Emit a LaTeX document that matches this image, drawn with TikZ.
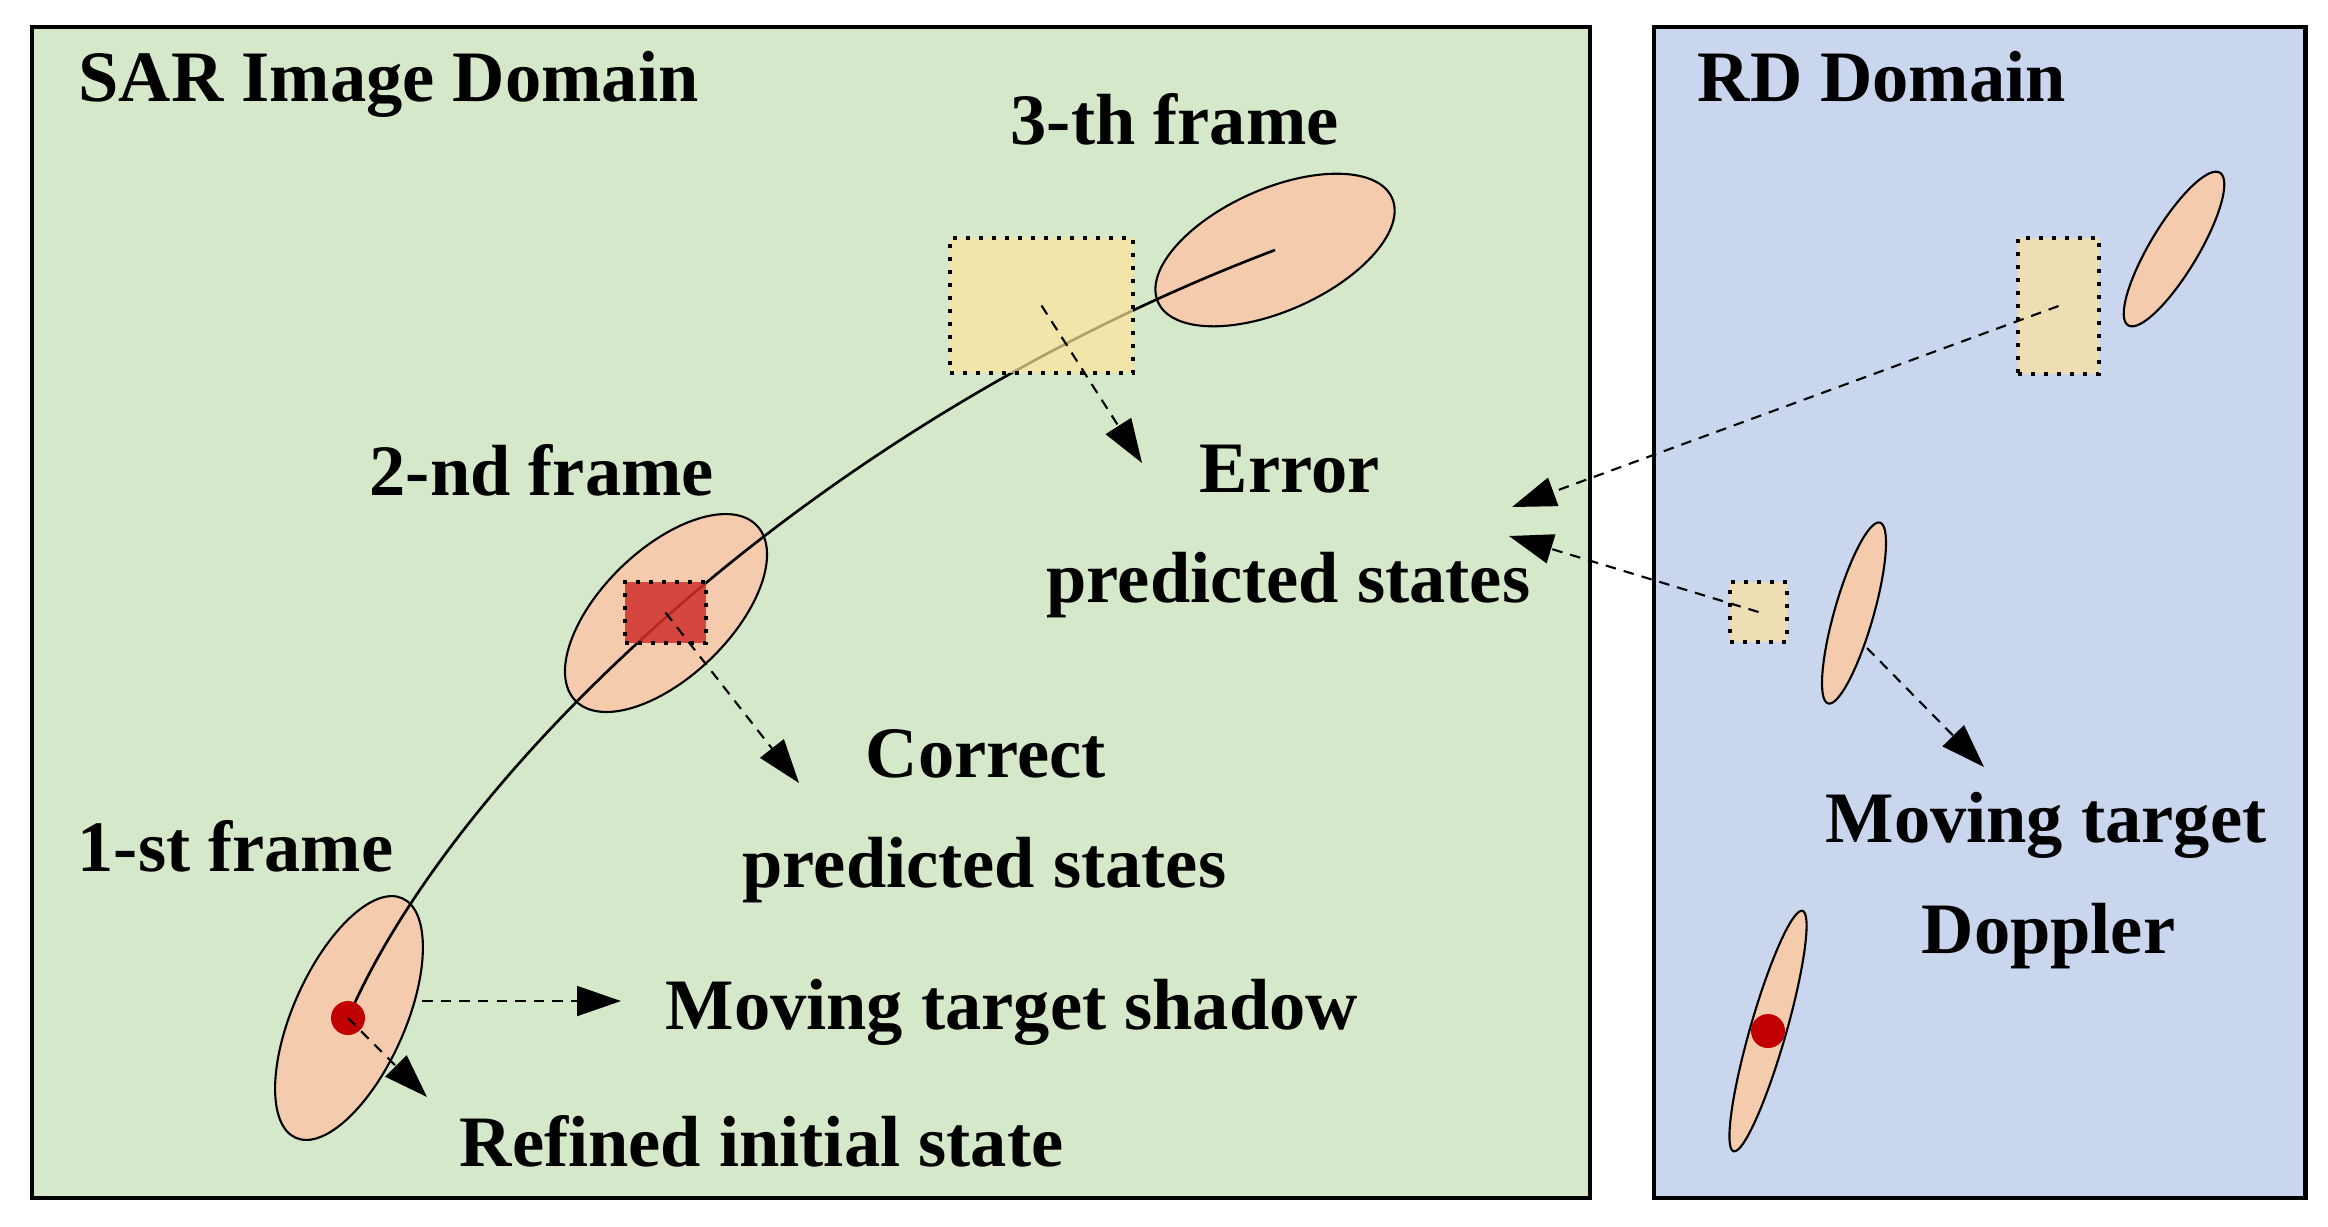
\documentclass[tikz,border=0pt]{standalone}
\usepackage{fontspec}
\setmainfont{Liberation Serif}
\usetikzlibrary{arrows.meta,shapes.geometric}
\definecolor{bggreen}{HTML}{D5E8CA}
\definecolor{bgblue}{HTML}{C9D6ED}
\definecolor{peach}{HTML}{F5CBAE}
\definecolor{sqyellow}{HTML}{FDE49B}
\definecolor{sqred}{HTML}{D0302B}
\definecolor{dotred}{HTML}{C00000}
\begin{document}
\begin{tikzpicture}[x=0.01cm,y=-0.01cm,
  panel/.style={draw=black,line width=1.2pt},
  blob/.style={ellipse,draw=black,fill=peach,line width=0.6pt,inner sep=0pt,outer sep=0pt},
  box/.style={rectangle,draw=black,line width=1.15pt,dash pattern=on 1.15pt off 2.55pt,inner sep=0pt,outer sep=0pt},
  ybox/.style={box,fill=sqyellow,fill opacity=0.7},
  rbox/.style={box,fill=sqred,fill opacity=0.85},
  spot/.style={circle,fill=dotred,inner sep=0pt,minimum size=0.34cm},
  track/.style={draw=black,line width=0.75pt},
  pointer/.style={draw=black,line width=0.6pt,dash pattern=on 3pt off 2.3pt,-{Triangle[length=12.5pt,width=8.5pt]}},
  lbl/.style={anchor=base west,inner sep=0pt,font=\fontsize{20.6}{24}\selectfont\bfseries}
]
\useasboundingbox (0,0) rectangle (2328,1226);
\fill[white] (0,0) rectangle (2328,1226);
% panels
\node[panel,fill=bggreen,rectangle,inner sep=0pt,anchor=north west,minimum width=15.57cm,minimum height=11.70cm] (sar) at (30,25) {};
\node[panel,fill=bgblue,rectangle,inner sep=0pt,anchor=north west,minimum width=6.51cm,minimum height=11.70cm] (rd) at (1652,25) {};
% SAR ellipses
\node[blob,minimum width=2.56cm,minimum height=1.22cm,rotate=24] (e3) at (1275,250) {};
\node[blob,minimum width=2.52cm,minimum height=1.28cm,rotate=44] (e2) at (666,613) {};
\node[blob,minimum width=2.62cm,minimum height=1.12cm,rotate=66] (e1) at (349,1018) {};
% RD ellipses
\node[blob,minimum width=1.78cm,minimum height=0.48cm,rotate=59] (r3) at (2174,249) {};
\node[blob,minimum width=1.88cm,minimum height=0.39cm,rotate=74] (r2) at (1854,613) {};
\node[blob,minimum width=2.50cm,minimum height=0.36cm,rotate=74] (r1) at (1768,1031) {};
% trajectory
\coordinate (p1) at (348,1018);
\draw[track] (p1) .. controls (450,780) and (800,430) .. (e3.center);
% boxes
\node[rbox,minimum width=0.81cm,minimum height=0.61cm] (b2) at (665.5,612.5) {};
\node[ybox,minimum width=1.83cm,minimum height=1.35cm] (b3) at (1041.5,305.5) {};
\node[ybox,minimum width=0.81cm,minimum height=1.36cm] (rb3) at (2058.5,306) {};
\node[ybox,minimum width=0.57cm,minimum height=0.60cm] (rb2) at (1758.5,612) {};
% red dots
\node[spot] (d1) at (p1) {};
\node[spot] (rd1) at (1768,1031) {};
% arrow end points
\coordinate (t3) at (1142,463);
\coordinate (t2) at (799,783);
\coordinate (t1) at (427,1097);
\coordinate (s4) at (422,1001);
\coordinate (t4) at (621,1001);
\coordinate (t5) at (1512,507);
\coordinate (t6) at (1509,536);
\coordinate (s7) at (1867,648);
\coordinate (t7) at (1984,767);
\draw[pointer] (b3.center) -- (t3);
\draw[pointer] (b2.center) -- (t2);
\draw[pointer] (d1.center) -- (t1);
\draw[pointer] (s4) -- (t4);
\draw[pointer] (rb3.center) -- (t5);
\draw[pointer] (rb2.center) -- (t6);
\draw[pointer] (s7) -- (t7);
% labels
\node[lbl] (lsar) at (78,101) {SAR Image Domain};
\node[lbl] (lrd) at (1697,101) {RD Domain};
\node[lbl] (lf3) at (1010,144) {3-th frame};
\node[lbl] (lf2) at (369,495) {2-nd frame};
\node[lbl] (lf1) at (77,871) {1-st frame};
\node[lbl] (lerr) at (1199,492) {Error};
\node[lbl] (lerr2) at (1046,602) {predicted states};
\node[lbl] (lcor) at (865,777) {Correct};
\node[lbl] (lcor2) at (742,887) {predicted states};
\node[lbl] (lsh) at (665,1029) {Moving target shadow};
\node[lbl] (lref) at (459,1166) {Refined initial state};
\node[lbl] (lmt) at (1825,842) {Moving target};
\node[lbl] (ldop) at (1921,953) {Doppler};
\end{tikzpicture}
\end{document}
